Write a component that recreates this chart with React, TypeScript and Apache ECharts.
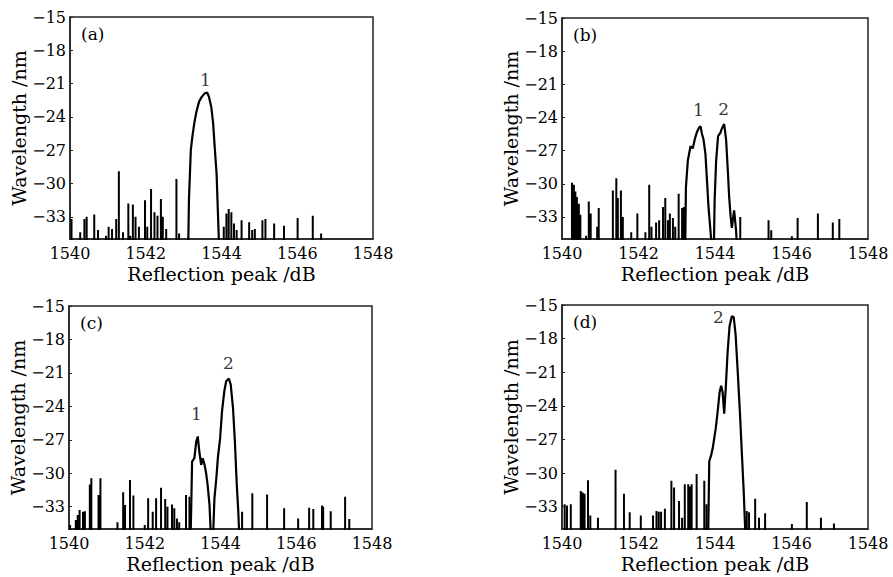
import React, { useEffect, useRef } from "react";
import * as echarts from "echarts";

// ---- data (wavelength x, level y) ----
const xTicks = [1540, 1542, 1544, 1546, 1548];
const yTicks = [-33, -30, -27, -24, -21, -18, -15];
const baseLevel = -36;

const spikesA: [number, number][] = [
  [1540.04, -33.2], [1540.27, -34.4], [1540.38, -33.2], [1540.44, -33.0], [1540.64, -32.8],
  [1540.74, -34.2], [1540.95, -34.7], [1541.02, -33.9], [1541.11, -34.1], [1541.22, -33.2],
  [1541.29, -28.9], [1541.40, -34.4], [1541.54, -31.8], [1541.59, -34.7], [1541.66, -31.9],
  [1541.73, -33.0], [1541.82, -33.9], [1541.98, -31.5], [1542.04, -33.9], [1542.14, -30.5],
  [1542.23, -32.6], [1542.31, -32.9], [1542.40, -31.4], [1542.45, -33.0], [1542.54, -34.1],
  [1542.81, -29.6], [1542.88, -34.5],
  [1544.06, -33.9], [1544.13, -32.7], [1544.19, -32.3], [1544.26, -32.6], [1544.33, -33.6],
  [1544.40, -34.2], [1544.53, -33.3], [1544.73, -33.5], [1544.81, -34.2], [1544.88, -34.1],
  [1545.08, -33.3], [1545.16, -33.2], [1545.39, -33.6], [1545.65, -33.8], [1546.01, -33.1],
  [1546.41, -32.9], [1546.63, -34.5],
];
const peaksA: [number, number][] = [
  [1543.12, -36], [1543.14, -31.5], [1543.19, -27.0], [1543.23, -25.8], [1543.28, -24.6],
  [1543.34, -23.5], [1543.41, -22.6], [1543.48, -22.2], [1543.55, -21.9], [1543.62, -21.8],
  [1543.67, -22.2], [1543.73, -23.1], [1543.78, -24.6], [1543.82, -26.7], [1543.87, -29.1],
  [1543.90, -32.1], [1543.94, -36],
];

const spikesB: [number, number][] = [
  [1540.26, -29.9], [1540.31, -30.1], [1540.35, -30.7], [1540.39, -31.2], [1540.44, -31.8],
  [1540.48, -32.8], [1540.63, -34.7], [1540.70, -31.6], [1540.75, -32.7], [1540.92, -33.9],
  [1540.96, -32.2], [1541.33, -30.6], [1541.42, -29.5], [1541.46, -31.3], [1541.54, -30.6],
  [1541.59, -33.0], [1541.81, -34.4], [1541.97, -32.7], [1542.18, -34.4], [1542.28, -30.1],
  [1542.34, -33.9], [1542.46, -33.5], [1542.54, -33.3], [1542.64, -32.1], [1542.70, -31.3],
  [1542.77, -33.3], [1542.82, -32.7], [1542.90, -33.1], [1542.96, -33.9], [1543.05, -30.9],
  [1543.14, -32.2], [1543.19, -32.1],
  [1544.66, -33.0], [1545.40, -33.3], [1545.47, -34.2], [1546.01, -34.75], [1546.16, -33.1],
  [1546.69, -32.7], [1547.08, -33.5], [1547.25, -33.2],
];
const peaksB: [number, number][] = [
  [1543.22, -36], [1543.24, -30.3], [1543.29, -27.9], [1543.36, -26.6], [1543.42, -26.8],
  [1543.47, -26.0], [1543.52, -25.4], [1543.57, -25.0], [1543.62, -24.8], [1543.66, -25.5],
  [1543.70, -26.0], [1543.75, -27.3], [1543.79, -29.7], [1543.83, -32.1], [1543.88, -34.2],
  [1543.92, -36], [1543.97, -36], [1543.99, -31.5], [1544.03, -27.9], [1544.08, -25.7],
  [1544.14, -25.4], [1544.18, -25.0], [1544.24, -24.6], [1544.29, -26.0], [1544.34, -29.1],
  [1544.37, -31.2], [1544.41, -33.0], [1544.44, -34.0], [1544.50, -32.4], [1544.55, -34.2],
  [1544.58, -36],
];

const spikesC: [number, number][] = [
  [1540.03, -34.65], [1540.18, -34.2], [1540.23, -33.75], [1540.28, -33.3], [1540.37, -33.45],
  [1540.42, -33.4], [1540.55, -31.0], [1540.59, -30.45], [1540.78, -31.95], [1540.83, -30.45],
  [1541.28, -34.4], [1541.43, -31.7], [1541.48, -32.85], [1541.61, -30.6], [1541.70, -32.0],
  [1542.00, -34.65], [1542.09, -32.25], [1542.21, -33.45], [1542.30, -32.25], [1542.43, -31.3],
  [1542.54, -32.3], [1542.60, -33.0], [1542.72, -32.8], [1542.78, -33.15], [1542.85, -34.05],
  [1542.91, -34.4], [1543.09, -31.95], [1543.18, -32.1],
  [1544.57, -33.45], [1544.84, -31.8], [1545.23, -31.9], [1545.68, -33.15], [1546.05, -34.05],
  [1546.34, -33.1], [1546.45, -33.2], [1546.68, -32.9], [1546.71, -33.0], [1546.91, -33.4],
  [1547.29, -32.1], [1547.40, -34.1],
];
const peaksC: [number, number][] = [
  [1543.21, -36], [1543.25, -28.95], [1543.31, -28.65], [1543.36, -27.15], [1543.40, -26.7],
  [1543.44, -28.05], [1543.49, -29.25], [1543.53, -28.65], [1543.58, -29.25], [1543.62, -30.0],
  [1543.66, -31.05], [1543.71, -32.85], [1543.75, -36], [1543.80, -36], [1543.84, -32.25],
  [1543.89, -30.45], [1543.93, -28.65], [1543.99, -26.85], [1544.04, -24.45], [1544.10, -22.65],
  [1544.15, -21.75], [1544.22, -21.5], [1544.27, -22.05], [1544.33, -24.15], [1544.38, -27.15],
  [1544.43, -31.05], [1544.47, -33.45], [1544.50, -36],
];

const spikesD: [number, number][] = [
  [1540.07, -32.8], [1540.13, -32.9], [1540.23, -32.8], [1540.49, -31.6], [1540.54, -31.75],
  [1540.59, -31.85], [1540.68, -30.65], [1540.74, -33.8], [1540.94, -34.0], [1541.40, -29.7],
  [1541.62, -31.85], [1541.77, -33.5], [1542.06, -33.8], [1542.38, -33.8], [1542.47, -33.4],
  [1542.53, -33.45], [1542.59, -33.45], [1542.69, -33.2], [1542.86, -30.7], [1542.93, -31.3],
  [1543.06, -32.5], [1543.14, -34.0], [1543.21, -31.0], [1543.30, -31.0], [1543.34, -31.2],
  [1543.39, -31.0], [1543.52, -30.1], [1543.72, -30.7], [1543.78, -32.8],
  [1544.83, -33.4], [1544.89, -33.5], [1545.05, -32.3], [1545.15, -34.0], [1545.31, -33.6],
  [1546.01, -34.55], [1546.40, -32.6], [1546.77, -34.0], [1547.11, -34.5],
];
const peaksD: [number, number][] = [
  [1543.82, -36], [1543.85, -28.95], [1543.90, -28.4], [1543.94, -27.8], [1543.98, -26.9],
  [1544.02, -26.0], [1544.07, -24.5], [1544.12, -22.8], [1544.16, -22.2], [1544.20, -22.8],
  [1544.24, -24.7], [1544.28, -22.5], [1544.33, -19.2], [1544.38, -16.9], [1544.44, -16.0],
  [1544.49, -16.1], [1544.54, -17.7], [1544.59, -20.7], [1544.65, -24.5], [1544.70, -28.1],
  [1544.75, -31.6], [1544.80, -36],
];

const panelLetters = ["(a)", "(b)", "(c)", "(d)"];
const peakLabelsA: [number, number, string][] = [[1543.59, -20.7, "1"]];
const peakLabelsB: [number, number, string][] = [[1543.58, -23.4, "1"], [1544.24, -23.3, "2"]];
const peakLabelsC: [number, number, string][] = [[1543.38, -24.7, "1"], [1544.22, -20.2, "2"]];
const peakLabelsD: [number, number, string][] = [[1544.10, -16.1, "2"]];

const xTitle = "Reflection peak /dB";
const yTitle = "Wavelength /nm";

const FONT = "DejaVu Serif";

const grids = [
  { left: 70, top: 17, width: 303, height: 222 },
  { left: 562, top: 18, width: 306, height: 221 },
  { left: 69, top: 306, width: 303, height: 223 },
  { left: 562, top: 305, width: 306, height: 224 },
];

function spikesToLine(sp: [number, number][]): [number, number][] {
  const out: [number, number][] = [];
  sp.forEach(([x, v]) => {
    out.push([x, baseLevel], [x, v], [x, baseLevel]);
  });
  return out;
}

export default function App() {
  const ref = useRef<HTMLDivElement>(null);
  useEffect(() => {
    if (!ref.current) return;
    const chart = echarts.init(ref.current, null, { renderer: "svg" });
    const spikes = [spikesA, spikesB, spikesC, spikesD];
    const peaks = [peaksA, peaksB, peaksC, peaksD];
    const labels = [peakLabelsA, peakLabelsB, peakLabelsC, peakLabelsD];

    const xAxes: any[] = [];
    const yAxes: any[] = [];
    const series: any[] = [];
    grids.forEach((g, i) => {
      xAxes.push({
        type: "value",
        gridIndex: i,
        min: xTicks[0],
        max: xTicks[xTicks.length - 1],
        interval: 2,
        name: xTitle,
        nameLocation: "middle",
        nameGap: 25,
        nameTextStyle: { fontFamily: FONT, fontSize: 19, color: "#000" },
        axisLine: { show: true, lineStyle: { color: "#222", width: 1.5 } },
        axisTick: { show: false },
        splitLine: { show: false },
        axisLabel: {
          fontFamily: FONT,
          fontSize: 16,
          color: "#000",
          margin: 6,
          formatter: (v: number) => String(v),
        },
      });
      yAxes.push({
        type: "value",
        gridIndex: i,
        min: -35,
        max: -15,
        name: yTitle,
        nameLocation: "middle",
        nameGap: 42,
        nameTextStyle: { fontFamily: FONT, fontSize: 19, color: "#000" },
        axisLine: { show: true, lineStyle: { color: "#222", width: 1.5 } },
        axisTick: { show: true, inside: true, length: 3, customValues: yTicks, lineStyle: { color: "#222" } },
        splitLine: { show: false },
        axisLabel: {
          fontFamily: FONT,
          fontSize: 16,
          color: "#000",
          margin: 4,
          customValues: yTicks,
          formatter: (v: number) => (v < 0 ? "\u2212" + Math.abs(v) : String(v)),
        },
      });
      series.push({
        type: "line",
        xAxisIndex: i,
        yAxisIndex: i,
        data: spikesToLine(spikes[i]),
        showSymbol: false,
        symbol: "none",
        lineStyle: { color: "#000", width: 2 },
        clip: true,
      });
      series.push({
        type: "line",
        xAxisIndex: i,
        yAxisIndex: i,
        data: peaks[i],
        showSymbol: false,
        symbol: "none",
        lineStyle: { color: "#000", width: 2.2 },
        clip: true,
      });
      series.push({
        type: "scatter",
        xAxisIndex: i,
        yAxisIndex: i,
        symbol: "circle",
        symbolSize: 1,
        itemStyle: { color: "rgba(255,255,255,0)" },
        data: labels[i].map((l) => ({ value: [l[0], l[1]], name: l[2] })),
        label: {
          show: true,
          position: [0, 0],
          align: "center",
          verticalAlign: "middle",
          formatter: (p: any) => p.name,
          fontFamily: FONT,
          fontSize: 17,
          color: "#000",
        },
      });
    });

    chart.setOption({
      animation: false,
      backgroundColor: "#fff",
      grid: grids.map((g) => ({
        ...g,
        show: true,
        borderColor: "#222",
        borderWidth: 1.5,
        backgroundColor: "transparent",
        containLabel: false,
      })),
      xAxis: xAxes,
      yAxis: yAxes,
      series,
      graphic: grids.map((g, i) => ({
        type: "text",
        left: g.left + 11,
        top: g.top + 8,
        style: { text: panelLetters[i], font: `17px ${FONT}`, fill: "#000" },
      })),
    });
    return () => chart.dispose();
  }, []);
  return (
    <div
      ref={ref}
      style={{ position: "absolute", left: 0, top: 0, width: 893, height: 577, background: "#fff" }}
    />
  );
}
